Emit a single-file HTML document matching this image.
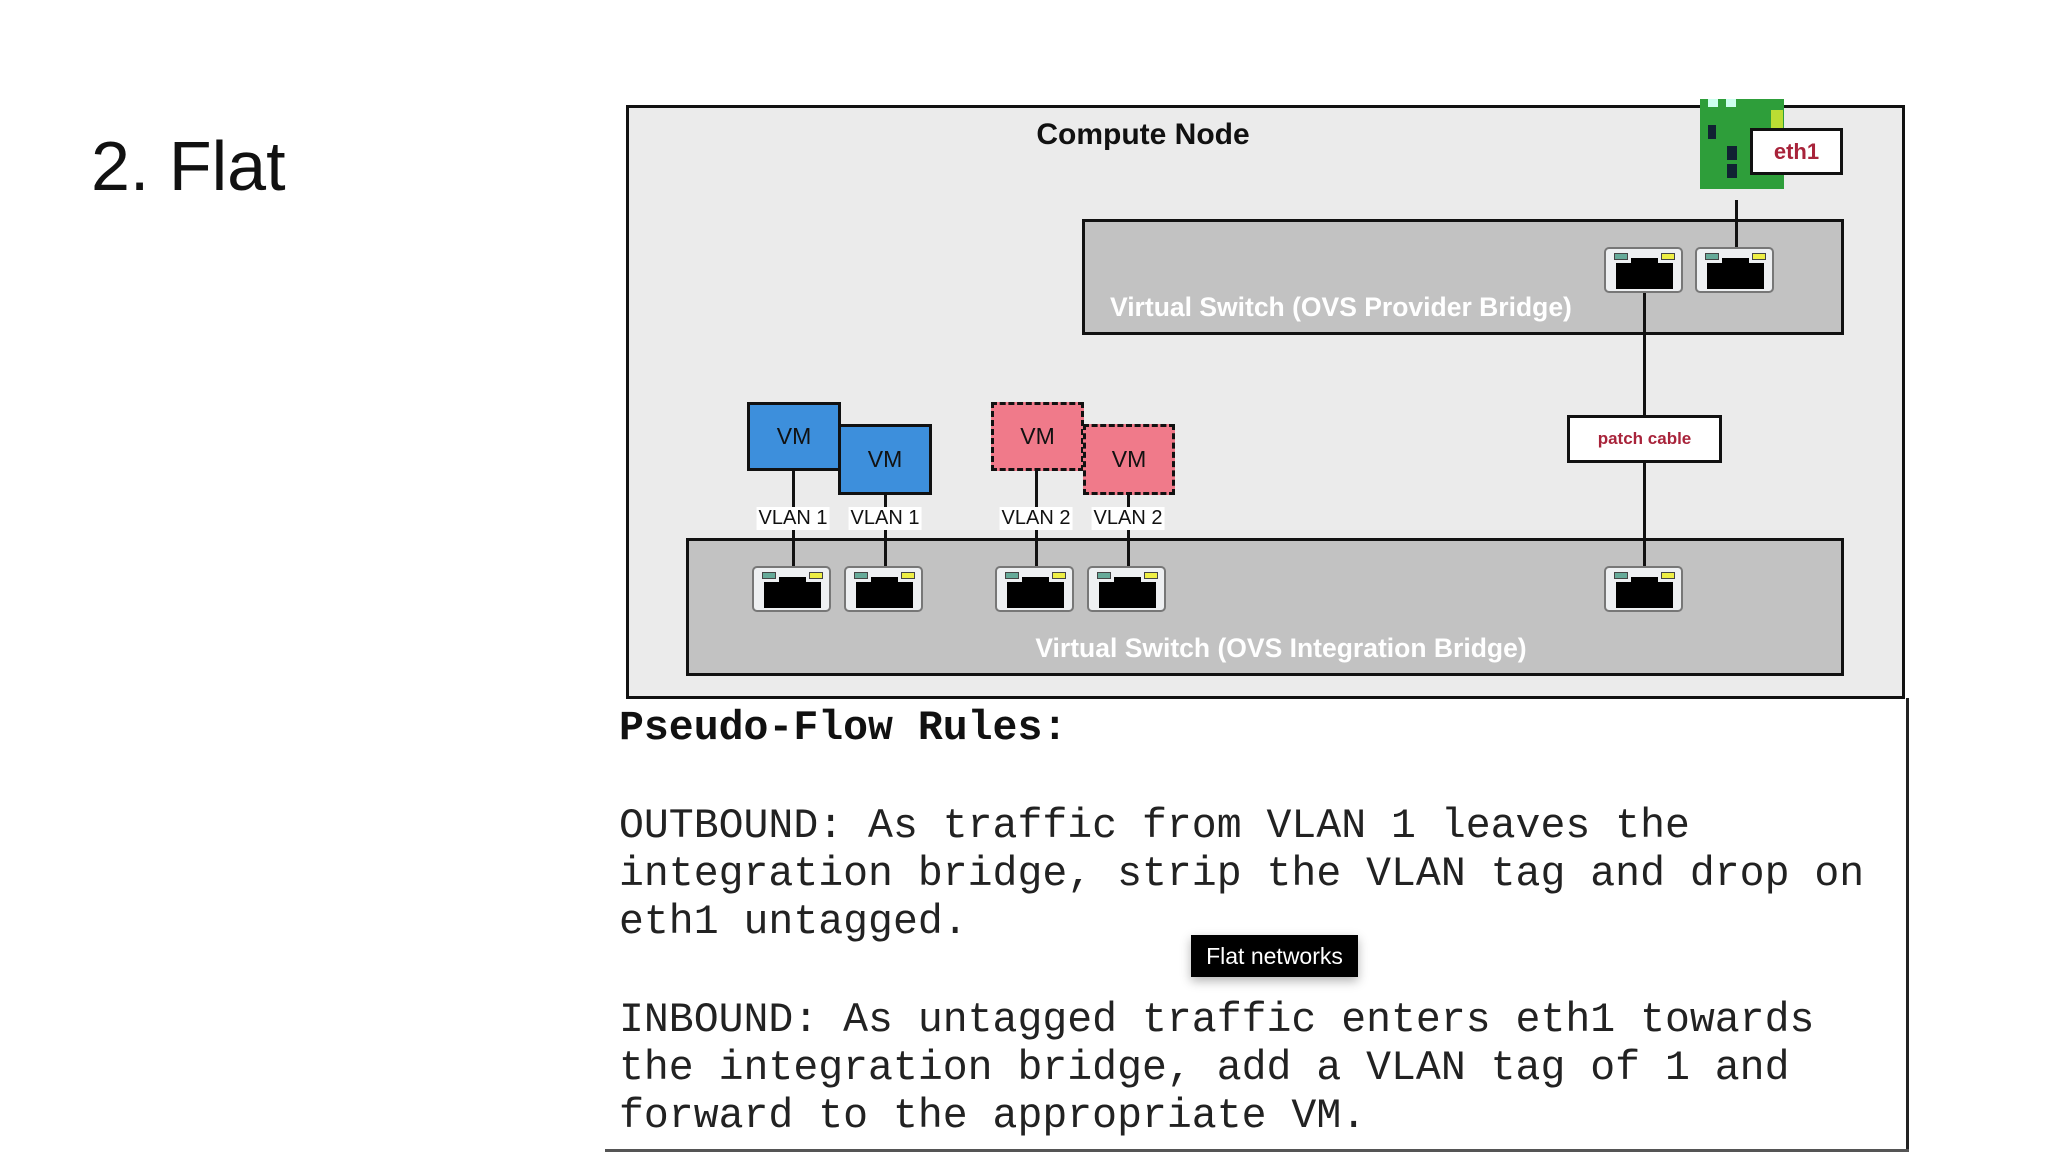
<!DOCTYPE html>
<html><head><meta charset="utf-8"><style>
*{margin:0;padding:0;box-sizing:border-box}
body{width:2048px;height:1152px;background:#fff;position:relative;overflow:hidden;font-family:"Liberation Sans",sans-serif}
.a{position:absolute}
.box{position:absolute;border:3px solid #111}
.port{position:absolute;width:79px;height:46px;background:#eef0f2;border:2px solid #777;border-radius:5px}
.port .j{position:absolute;left:10px;top:14px;width:57px;height:26px;background:#000}
.port .k{position:absolute;left:25px;top:9px;width:27px;height:8px;background:#000}
.port .g{position:absolute;left:8px;top:4px;width:14px;height:7px;background:#6a9;border:1px solid #444}
.port .y{position:absolute;left:55px;top:4px;width:14px;height:7px;background:#ee4;border:1px solid #444}
.vm{position:absolute;border:3px solid #111;font-size:23px;color:#111;display:flex;align-items:center;justify-content:center}
.vl{position:absolute;font-size:20px;background:#fff;color:#111;padding:0 2px;transform:translateX(-50%)}
.ln{position:absolute;background:#111;width:3px}
.mono{position:absolute;left:619px;font-family:"Liberation Mono",monospace;font-size:41.5px;line-height:48px;color:#222;white-space:pre}
.wl{color:#fff;font-weight:bold;font-size:26.5px;position:absolute;white-space:nowrap}
</style></head><body>
<div class="a" style="left:91px;top:126px;font-size:70px;color:#111;line-height:80px">2. Flat</div>

<div class="box" style="left:626px;top:105px;width:1279px;height:594px;background:#ebebeb"></div>
<div class="a" style="left:1143px;top:118px;transform:translateX(-50%);font-size:30px;font-weight:bold;color:#111;white-space:nowrap">Compute Node</div>

<div class="box" style="left:1082px;top:219px;width:762px;height:116px;background:#c2c2c2"></div>
<div class="wl" style="left:1110px;top:292px">Virtual Switch (OVS Provider Bridge)</div>
<div class="box" style="left:686px;top:538px;width:1158px;height:138px;background:#c2c2c2"></div>
<div class="wl" style="left:1281px;top:633px;transform:translateX(-50%)">Virtual Switch (OVS Integration Bridge)</div>

<div class="a" style="left:1700px;top:99px;width:84px;height:90px;background:#2e9e3a"></div>
<div class="a" style="left:1708px;top:99px;width:10px;height:8px;background:#cfe"></div>
<div class="a" style="left:1726px;top:99px;width:10px;height:8px;background:#cfe"></div>
<div class="a" style="left:1771px;top:110px;width:12px;height:55px;background:#bd3"></div>
<div class="a" style="left:1708px;top:125px;width:8px;height:14px;background:#123"></div>
<div class="a" style="left:1727px;top:146px;width:10px;height:14px;background:#123"></div>
<div class="a" style="left:1727px;top:164px;width:10px;height:14px;background:#123"></div>
<div class="box" style="left:1750px;top:128px;width:93px;height:47px;background:#fff;font-size:22px;font-weight:bold;color:#a8233a;display:flex;align-items:center;justify-content:center">eth1</div>

<div class="ln" style="left:1735px;top:200px;height:48px"></div>
<div class="ln" style="left:1643px;top:290px;height:126px"></div>
<div class="box" style="left:1567px;top:415px;width:155px;height:48px;background:#fff;font-size:17px;font-weight:bold;color:#a8233a;display:flex;align-items:center;justify-content:center">patch cable</div>
<div class="ln" style="left:1643px;top:462px;height:108px"></div>

<div class="ln" style="left:792px;top:468px;height:100px"></div>
<div class="ln" style="left:884px;top:492px;height:76px"></div>
<div class="ln" style="left:1035px;top:468px;height:100px"></div>
<div class="ln" style="left:1127px;top:492px;height:76px"></div>

<div class="vm" style="left:747px;top:402px;width:94px;height:69px;background:#3d8fdc">VM</div>
<div class="vm" style="left:838px;top:424px;width:94px;height:71px;background:#3d8fdc">VM</div>
<div class="vm" style="left:991px;top:402px;width:93px;height:69px;background:#f07a8a;border-style:dashed">VM</div>
<div class="vm" style="left:1083px;top:424px;width:92px;height:71px;background:#f07a8a;border-style:dashed">VM</div>

<div class="vl" style="left:793px;top:507px">VLAN 1</div>
<div class="vl" style="left:885px;top:507px">VLAN 1</div>
<div class="vl" style="left:1036px;top:507px">VLAN 2</div>
<div class="vl" style="left:1128px;top:507px">VLAN 2</div>

<div class="port" style="left:1604px;top:247px"><i class="j"></i><i class="k"></i><i class="g"></i><i class="y"></i></div>
<div class="port" style="left:1695px;top:247px"><i class="j"></i><i class="k"></i><i class="g"></i><i class="y"></i></div>
<div class="port" style="left:752px;top:566px"><i class="j"></i><i class="k"></i><i class="g"></i><i class="y"></i></div>
<div class="port" style="left:844px;top:566px"><i class="j"></i><i class="k"></i><i class="g"></i><i class="y"></i></div>
<div class="port" style="left:995px;top:566px"><i class="j"></i><i class="k"></i><i class="g"></i><i class="y"></i></div>
<div class="port" style="left:1087px;top:566px"><i class="j"></i><i class="k"></i><i class="g"></i><i class="y"></i></div>
<div class="port" style="left:1604px;top:566px"><i class="j"></i><i class="k"></i><i class="g"></i><i class="y"></i></div>

<div class="a" style="left:1906px;top:698px;width:3px;height:454px;background:#222"></div>
<div class="a" style="left:605px;top:1149px;width:1304px;height:3px;background:#555"></div>
<div class="mono" style="top:705px;font-weight:bold;color:#111">Pseudo-Flow Rules:</div>
<div class="mono" style="top:803px">OUTBOUND: As traffic from VLAN 1 leaves the
integration bridge, strip the VLAN tag and drop on
eth1 untagged.</div>
<div class="mono" style="top:997px">INBOUND: As untagged traffic enters eth1 towards
the integration bridge, add a VLAN tag of 1 and
forward to the appropriate VM.</div>

<div class="a" style="left:1191px;top:935px;width:167px;height:42px;background:#000;color:#fff;font-size:23px;display:flex;align-items:center;justify-content:center;box-shadow:0 4px 10px rgba(0,0,0,.3)">Flat networks</div>
</body></html>
